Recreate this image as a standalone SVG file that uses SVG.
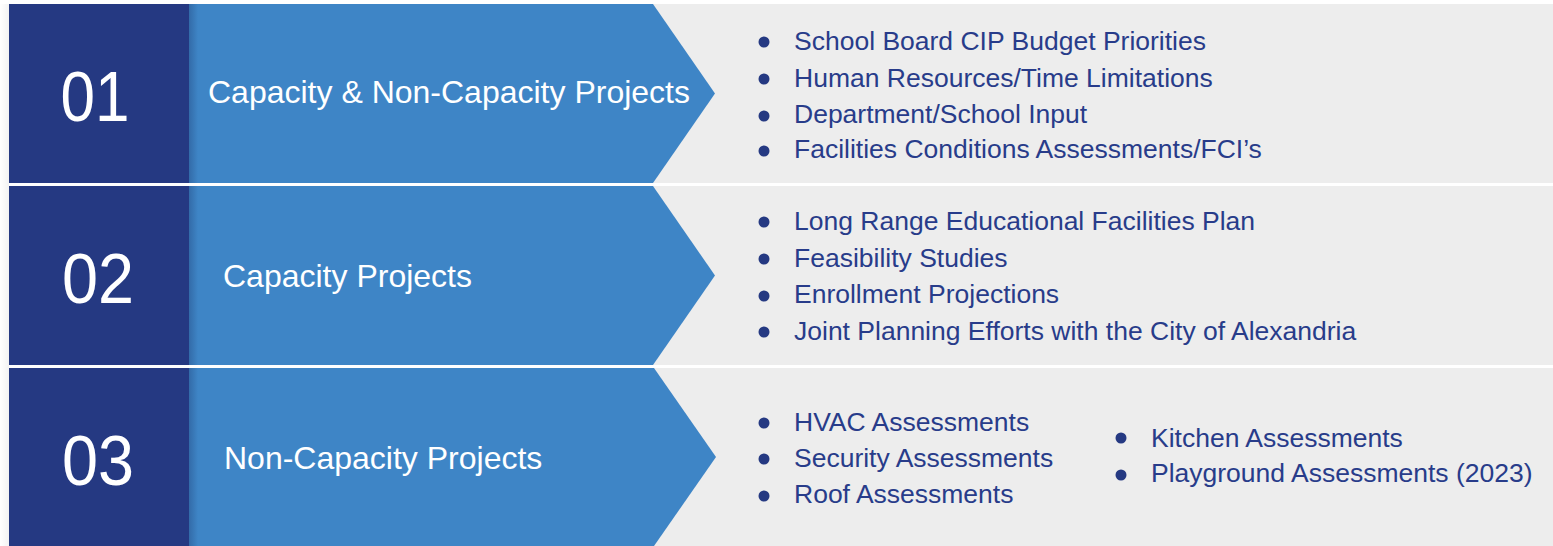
<svg xmlns="http://www.w3.org/2000/svg" width="1553" height="546" viewBox="0 0 1553 546">
<defs>
<style>
.bg{fill:#EDEDED}
.num{fill:#253982}
.chev{fill:#3E85C6}
.numt{font-family:"Liberation Sans",Arial,sans-serif;font-size:70px;fill:#FFFFFF;text-anchor:middle}
.title{font-family:"Liberation Sans",Arial,sans-serif;font-size:32px;fill:#FFFFFF}
.item{font-family:"Liberation Sans",Arial,sans-serif;font-size:26.5px;fill:#283C8A}
.dot{fill:#253982}
</style>
<linearGradient id="sh" x1="0" y1="0" x2="1" y2="0">
<stop offset="0" stop-color="#1E3A70" stop-opacity="0.35"/>
<stop offset="1" stop-color="#1E3A70" stop-opacity="0"/>
</linearGradient>
<linearGradient id="lsh" x1="1" y1="0" x2="0" y2="0">
<stop offset="0" stop-color="#000" stop-opacity="0.05"/>
<stop offset="1" stop-color="#000" stop-opacity="0"/>
</linearGradient>
</defs>
<rect width="1553" height="546" fill="#FFFFFF"/>
<rect x="0" y="4" width="9" height="542" fill="url(#lsh)"/>
<g id="row1">
<rect class="bg" x="9" y="4" width="1544" height="179"/>
<polygon class="chev" points="189,4 653,4 715,93.5 653,183 189,183"/>
<rect class="num" x="9" y="4" width="180" height="179"/>
<rect x="189" y="4" width="9" height="179" fill="url(#sh)"/>
<text class="numt" x="95" y="121" textLength="69" lengthAdjust="spacingAndGlyphs">01</text>
<text class="title" x="208" y="103">Capacity &amp; Non-Capacity Projects</text>
<circle class="dot" cx="764" cy="42" r="5.5"/>
<circle class="dot" cx="764" cy="79" r="5.5"/>
<circle class="dot" cx="764" cy="116" r="5.5"/>
<circle class="dot" cx="764" cy="151" r="5.5"/>
<text class="item" x="794" y="50">School Board CIP Budget Priorities</text>
<text class="item" x="794" y="87">Human Resources/Time Limitations</text>
<text class="item" x="794" y="123">Department/School Input</text>
<text class="item" x="794" y="158">Facilities Conditions Assessments/FCI’s</text>
</g>
<g id="row2">
<rect class="bg" x="9" y="186" width="1544" height="179"/>
<polygon class="chev" points="189,186 653,186 715,275.5 653,365 189,365"/>
<rect class="num" x="9" y="186" width="180" height="179"/>
<rect x="189" y="186" width="9" height="179" fill="url(#sh)"/>
<text class="numt" x="98" y="303" textLength="72" lengthAdjust="spacingAndGlyphs">02</text>
<text class="title" x="223" y="287">Capacity Projects</text>
<circle class="dot" cx="764" cy="222" r="5.5"/>
<circle class="dot" cx="764" cy="259" r="5.5"/>
<circle class="dot" cx="764" cy="296" r="5.5"/>
<circle class="dot" cx="764" cy="332" r="5.5"/>
<text class="item" x="794" y="230">Long Range Educational Facilities Plan</text>
<text class="item" x="794" y="267">Feasibility Studies</text>
<text class="item" x="794" y="303">Enrollment Projections</text>
<text class="item" x="794" y="340">Joint Planning Efforts with the City of Alexandria</text>
</g>
<g id="row3">
<rect class="bg" x="9" y="368" width="1544" height="178"/>
<polygon class="chev" points="189,368 654,368 716,457 654,546 189,546"/>
<rect class="num" x="9" y="368" width="180" height="178"/>
<rect x="189" y="368" width="9" height="178" fill="url(#sh)"/>
<text class="numt" x="98" y="485" textLength="72" lengthAdjust="spacingAndGlyphs">03</text>
<text class="title" x="224" y="469">Non-Capacity Projects</text>
<circle class="dot" cx="764" cy="423" r="5.5"/>
<circle class="dot" cx="764" cy="459" r="5.5"/>
<circle class="dot" cx="764" cy="496" r="5.5"/>
<text class="item" x="794" y="431">HVAC Assessments</text>
<text class="item" x="794" y="467">Security Assessments</text>
<text class="item" x="794" y="503">Roof Assessments</text>
<circle class="dot" cx="1121" cy="438" r="5.5"/>
<circle class="dot" cx="1121" cy="475" r="5.5"/>
<text class="item" x="1151" y="447">Kitchen Assessments</text>
<text class="item" x="1151" y="482">Playground Assessments (2023)</text>
</g>
<g id="connectors"/>
</svg>
